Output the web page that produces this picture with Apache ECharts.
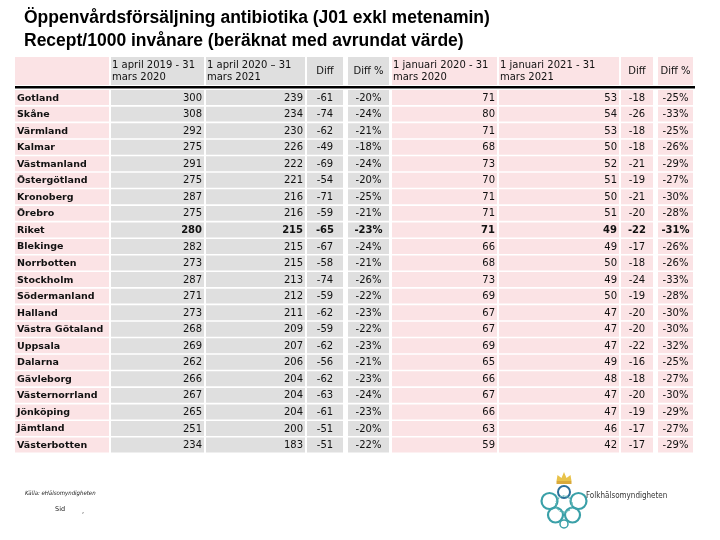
<!DOCTYPE html>
<html><head><meta charset="utf-8">
<script src="https://cdn.jsdelivr.net/npm/echarts@6/dist/echarts.min.js"></script>
<style>html,body{margin:0;padding:0;background:#fff}#c{width:720px;height:540px}</style>
</head><body><div id="c"></div>
<script>
// ---- data ----
const regions = ['Gotland','Skåne','Värmland','Kalmar','Västmanland','Östergötland','Kronoberg','Örebro','Riket','Blekinge','Norrbotten','Stockholm','Södermanland','Halland','Västra Götaland','Uppsala','Dalarna','Gävleborg','Västernorrland','Jönköping','Jämtland','Västerbotten'];
const yr1920 = [300,308,292,275,291,275,287,275,280,282,273,287,271,273,268,269,262,266,267,265,251,234];
const yr2021 = [239,234,230,226,222,221,216,216,215,215,215,213,212,211,209,207,206,204,204,204,200,183];
const diffYr = [-61,-74,-62,-49,-69,-54,-71,-59,-65,-67,-58,-74,-59,-62,-59,-62,-56,-62,-63,-61,-51,-51];
const diffYrPct = [-20,-24,-21,-18,-24,-20,-25,-21,-23,-24,-21,-26,-22,-23,-22,-23,-21,-23,-24,-23,-20,-22];
const q2020 = [71,80,71,68,73,70,71,71,71,66,68,73,69,67,67,69,65,66,67,66,63,59];
const q2021 = [53,54,53,50,52,51,50,51,49,49,50,49,50,47,47,47,49,48,47,47,46,42];
const diffQ = [-18,-26,-18,-18,-21,-19,-21,-20,-22,-17,-18,-24,-19,-20,-20,-22,-16,-18,-20,-19,-17,-17];
const diffQPct = [-25,-33,-25,-26,-29,-27,-30,-28,-31,-26,-26,-33,-28,-30,-30,-32,-25,-27,-30,-29,-27,-29];
const headerLabels = ['', '1 april 2019 - 31\nmars 2020', '1 april 2020 – 31\nmars 2021', 'Diff', 'Diff %', '1 januari 2020 - 31\nmars 2020', '1 januari 2021 - 31\nmars 2021', 'Diff', 'Diff %'];
const titleText = 'Öppenvårdsförsäljning antibiotika (J01 exkl metenamin)\nRecept/1000 invånare (beräknat med avrundat värde)';
const sourceText = 'Källa: eHälsomyndigheten';
const logoText = 'Folkhälsomyndigheten';

// ---- layout / style (not data) ----
const colEdges = [[0,94],[96,189],[191,290],[292,328],[333,374],[377,482],[484,604],[606,638],[643,678]];
const colAlign = ['left','right','right','center','center','right','right','center','center'];
const PINK = '#fbe3e5', GRAY = '#dfdfdf';
const colFill = [PINK, GRAY, GRAY, GRAY, GRAY, PINK, PINK, PINK, PINK];
const hdrFill = [PINK, GRAY, GRAY, GRAY, GRAY, PINK, PINK, PINK, PINK];
const FONT = '"DejaVu Sans", Verdana, sans-serif';

const columns = [
  regions,
  yr1920.map(String),
  yr2021.map(String),
  diffYr.map(String),
  diffYrPct.map(v => v + '%'),
  q2020.map(String),
  q2021.map(String),
  diffQ.map(String),
  diffQPct.map(v => v + '%')
];

const bodyData = [];
regions.forEach((r, i) => {
  columns.forEach((col, j) => bodyData.push([j, i, col[i]]));
});
const headData = headerLabels.map((h, j) => [j, 0, h]);

function cellRender(isHeader) {
  return function (params, api) {
    const j = api.value(0), i = api.value(1);
    const src = isHeader ? headData : bodyData;
    const txt = src[params.dataIndex][2];
    const x0 = api.coord([colEdges[j][0], i])[0];
    const x1 = api.coord([colEdges[j][1], i])[0];
    const yc = api.coord([0, i])[1];
    const h = api.size([0, 1])[1];
    const top = isHeader ? yc - h / 2 : yc - h / 2 + 1.6;
    const bot = yc + h / 2;
    const bold = !isHeader && (j === 0 || regions[i] === 'Riket');
    const align = isHeader ? (colAlign[j] === 'center' ? 'center' : 'left') : colAlign[j];
    let tx;
    if (align === 'left') tx = x0 + (isHeader ? 1 : 2);
    else if (align === 'right') tx = x1 - 2;
    else tx = (x0 + x1) / 2;
    return {
      type: 'group',
      children: [
        { type: 'rect', shape: { x: x0, y: top, width: x1 - x0, height: bot - top },
          style: { fill: isHeader ? hdrFill[j] : colFill[j] } },
        { type: 'text', x: tx, y: (top + bot) / 2 + 0.5,
          style: { text: txt, textAlign: align, textVerticalAlign: 'middle',
            font: (bold ? 'bold ' : '') + (j === 0 && !isHeader ? '9.5px ' : '10px ') + FONT,
            fill: '#111', lineHeight: 12 } }
      ]
    };
  };
}

const chart = echarts.init(document.getElementById('c'), null, { renderer: 'canvas' });
chart.setOption({
  backgroundColor: '#fff',
  animation: false,
  title: {
    text: titleText, left: 19, top: 2,
    textStyle: { fontFamily: '"Liberation Sans", Arial, sans-serif', fontWeight: 'bold', fontSize: 17.5, lineHeight: 23, color: '#000' }
  },
  grid: [
    { left: 15, width: 678, top: 88.5, height: 364, containLabel: false },
    { left: 15, width: 678, top: 57, height: 28, containLabel: false }
  ],
  xAxis: [
    { gridIndex: 0, type: 'value', min: 0, max: 678, show: false },
    { gridIndex: 1, type: 'value', min: 0, max: 678, show: false }
  ],
  yAxis: [
    { gridIndex: 0, type: 'category', data: regions, inverse: true, show: false },
    { gridIndex: 1, type: 'category', data: ['header'], show: false }
  ],
  series: [
    { type: 'custom', xAxisIndex: 0, yAxisIndex: 0, data: bodyData, renderItem: cellRender(false), silent: true },
    { type: 'custom', xAxisIndex: 1, yAxisIndex: 1, data: headData, renderItem: cellRender(true), silent: true }
  ],
  graphic: [
    { type: 'line', shape: { x1: 15, y1: 87.2, x2: 695, y2: 87.2 }, style: { stroke: '#000', lineWidth: 2.5 } },
    { type: 'text', left: 25, top: 490, style: { text: sourceText, font: 'italic 6px "DejaVu Sans Condensed", "DejaVu Sans", sans-serif', fill: '#222' } },
    { type: 'text', left: 55, top: 506, style: { text: 'Sid', font: '6.5px "DejaVu Sans", sans-serif', fill: '#222' } },
    { type: 'text', left: 82, top: 508, style: { text: ',', font: '6.5px "DejaVu Sans", sans-serif', fill: '#222' } },
    // logo
    { type: 'group', left: 539, top: 472, children: [
      { type: 'polygon', shape: { points: [[22,9],[23,3],[27,6],[29.5,0],[32,6],[36,3],[37,9]] }, style: { fill: '#e8c24a' } },
      { type: 'rect', shape: { x: 22, y: 9, width: 15, height: 3 }, style: { fill: '#d9a93a' } },
      { type: 'circle', shape: { cx: 29.5, cy: 20, r: 6 }, style: { fill: 'none', stroke: '#2a6f9a', lineWidth: 2 } },
      { type: 'circle', shape: { cx: 15, cy: 29, r: 8 }, style: { fill: 'none', stroke: '#3aa0a8', lineWidth: 2.2 } },
      { type: 'circle', shape: { cx: 44, cy: 29, r: 8 }, style: { fill: 'none', stroke: '#3aa0a8', lineWidth: 2.2 } },
      { type: 'circle', shape: { cx: 21, cy: 43, r: 7.5 }, style: { fill: 'none', stroke: '#3aa0a8', lineWidth: 2.2 } },
      { type: 'circle', shape: { cx: 38, cy: 43, r: 7.5 }, style: { fill: 'none', stroke: '#3aa0a8', lineWidth: 2.2 } },
      { type: 'circle', shape: { cx: 29.5, cy: 32, r: 8 }, style: { fill: 'none', stroke: '#5fb5b5', lineWidth: 1.5, lineDash: [2, 1] } },
      { type: 'circle', shape: { cx: 29.5, cy: 52, r: 4 }, style: { fill: 'none', stroke: '#3aa0a8', lineWidth: 1.5 } }
    ] },
    { type: 'text', left: 586, top: 492, style: { text: logoText, font: '8px "DejaVu Sans Condensed", "DejaVu Sans", sans-serif', fill: '#333' } }
  ]
});
</script></body></html>
